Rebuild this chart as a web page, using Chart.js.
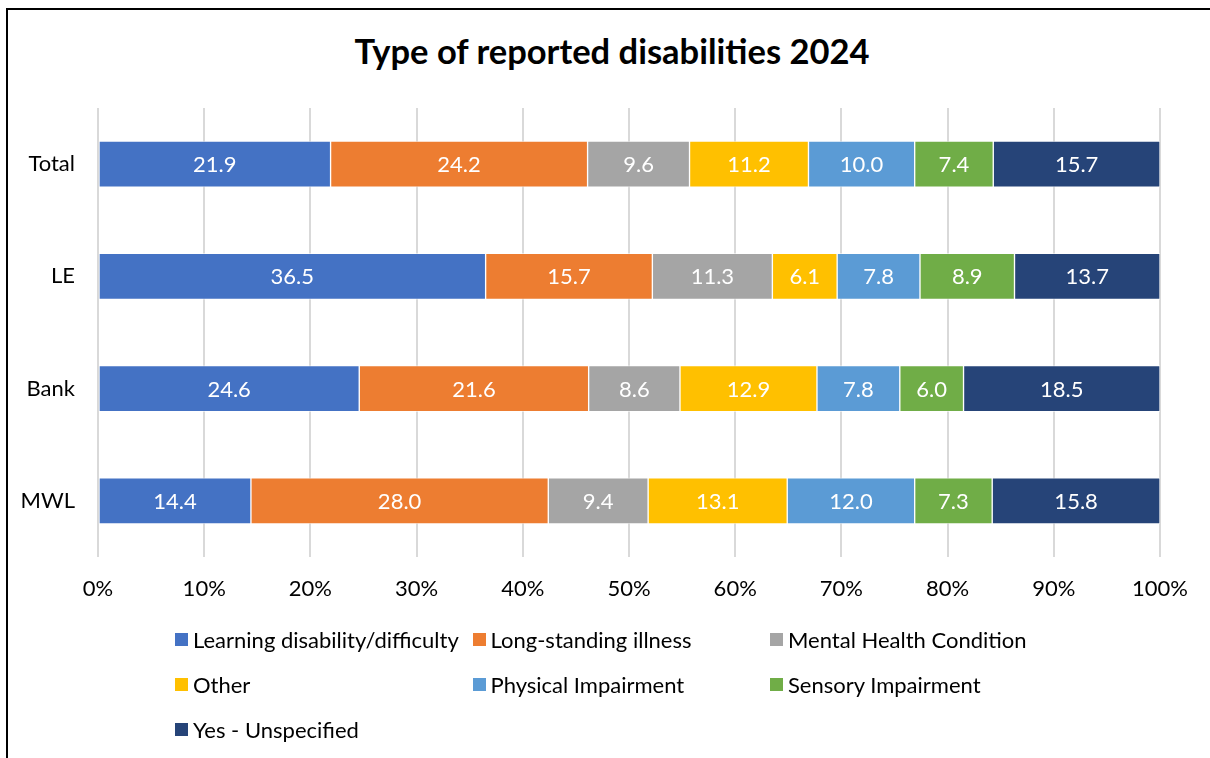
<!DOCTYPE html>
<html>
<head>
<meta charset="utf-8">
<script src="https://cdn.jsdelivr.net/npm/chart.js@4/dist/chart.umd.min.js"></script>
<style>
  html, body { margin: 0; padding: 0; background: #fff; }
  #wrap { position: relative; width: 1210px; height: 758px; overflow: hidden; font-family: Lato, "Open Sans", sans-serif; }
  #frame { position: absolute; left: 6px; top: 8px; width: 1300px; height: 900px; border-left: 2px solid #000; border-top: 2px solid #000; }
  #title { position: absolute; left: 0; top: 30px; width: 1224px; text-align: center; font-size: 34.5px; font-weight: bold; color: #000; }
  #chart { position: absolute; left: 0; top: 0; }
  #legend { position: absolute; left: 175px; top: 626px; width: 900px; }
  .item { position: absolute; display: flex; align-items: center; font-size: 22px; color: #000; white-space: nowrap; }
  .box { width: 13px; height: 13px; margin-right: 5px; }
</style>
</head>
<body>
<div id="wrap">
  <div id="frame"></div>
  <div id="title">Type of reported disabilities 2024</div>
  <canvas id="chart" width="1210" height="758"></canvas>
  <div id="legend"></div>
</div>
<script>
const categories = ["Total", "LE", "Bank", "MWL"];

const learningDisability = [21.9, 36.5, 24.6, 14.4];
const longStandingIllness = [24.2, 15.7, 21.6, 28.0];
const mentalHealth = [9.6, 11.3, 8.6, 9.4];
const other = [11.2, 6.1, 12.9, 13.1];
const physicalImpairment = [10.0, 7.8, 7.8, 12.0];
const sensoryImpairment = [7.4, 8.9, 6.0, 7.3];
const yesUnspecified = [15.7, 13.7, 18.5, 15.8];

const seriesNames = [
  "Learning disability/difficulty",
  "Long-standing illness",
  "Mental Health Condition",
  "Other",
  "Physical Impairment",
  "Sensory Impairment",
  "Yes - Unspecified"
];
const seriesValues = [learningDisability, longStandingIllness, mentalHealth, other, physicalImpairment, sensoryImpairment, yesUnspecified];
const seriesColors = ["#4472C4", "#ED7D31", "#A5A5A5", "#FFC000", "#5B9BD5", "#70AD47", "#264478"];

const axisTicks = [0, 10, 20, 30, 40, 50, 60, 70, 80, 90, 100];

const FONT = "Lato, 'Open Sans', sans-serif";

// white value labels centred in each segment
const segmentLabels = {
  id: "segmentLabels",
  afterDatasetsDraw(chart) {
    const ctx = chart.ctx;
    ctx.save();
    ctx.font = "22px " + FONT;
    ctx.fillStyle = "#fff";
    ctx.textAlign = "center";
    ctx.textBaseline = "middle";
    chart.data.datasets.forEach((ds, i) => {
      chart.getDatasetMeta(i).data.forEach((bar, j) => {
        const x = (bar.x + bar.base) / 2;
        ctx.fillText(ds.data[j].toFixed(1), x, bar.y + 1);
      });
    });
    ctx.restore();
  }
};

new Chart(document.getElementById("chart"), {
  type: "bar",
  data: {
    labels: categories,
    datasets: seriesNames.map((name, i) => ({
      label: name,
      data: seriesValues[i],
      backgroundColor: seriesColors[i],
      borderColor: "rgba(255,255,255,0.55)",
      borderWidth: 1,
      borderSkipped: false,
      barThickness: 46
    }))
  },
  options: {
    indexAxis: "y",
    responsive: false,
    animation: false,
    layout: { padding: { left: 0, right: 50, top: 108, bottom: 150 } },
    plugins: { legend: { display: false }, title: { display: false }, tooltip: { enabled: false } },
    scales: {
      x: {
        stacked: true,
        min: 0,
        max: 100,
        afterBuildTicks(scale) { scale.ticks = axisTicks.map(v => ({ value: v })); },
        afterFit(scale) { scale.height = 51; },
        ticks: { callback: v => v + "%", color: "#000", font: { family: FONT, size: 22 }, padding: 19, maxRotation: 0 },
        grid: { color: "#d9d9d9", lineWidth: 2, drawTicks: false },
        border: { display: false }
      },
      y: {
        stacked: true,
        afterFit(scale) { scale.width = 98; },
        ticks: { color: "#000", font: { family: FONT, size: 22 }, padding: 23 },
        grid: { display: false, drawTicks: false },
        border: { display: false }
      }
    }
  },
  plugins: [segmentLabels]
});

// legend laid out in three columns
const legend = document.getElementById("legend");
seriesNames.forEach((name, i) => {
  const item = document.createElement("div");
  item.className = "item";
  item.style.left = (i % 3) * 297.5 + "px";
  item.style.top = Math.floor(i / 3) * 45 + "px";
  const box = document.createElement("span");
  box.className = "box";
  box.style.background = seriesColors[i];
  const text = document.createElement("span");
  text.textContent = name;
  item.appendChild(box);
  item.appendChild(text);
  legend.appendChild(item);
});
</script>
</body>
</html>
